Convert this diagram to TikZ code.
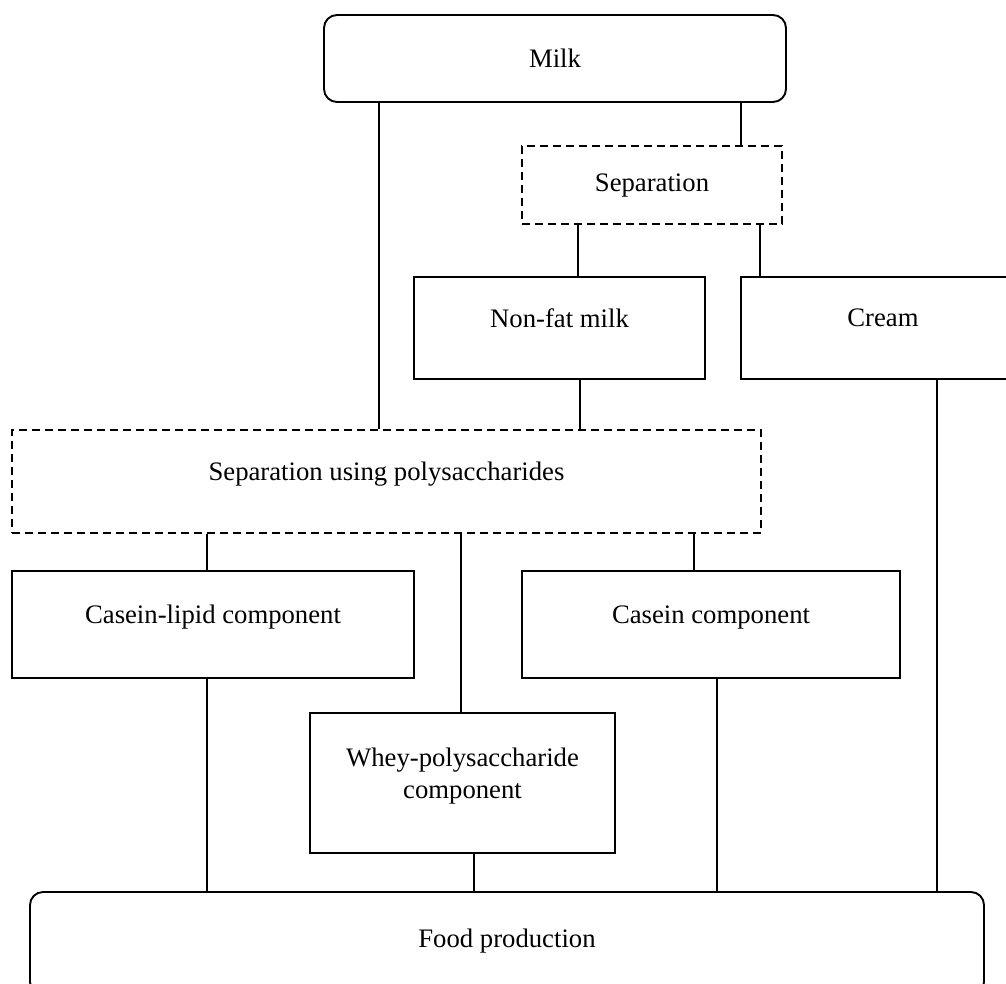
\documentclass[tikz,border=0pt]{standalone}
\usepackage{fontspec}
\setmainfont{Liberation Serif}
\begin{document}
\begin{tikzpicture}
[x=1pt,y=-1pt,
 boxnode/.style={shape=rectangle,draw,line width=1.9pt,inner sep=0pt,
   font=\fontsize{26.7}{32}\selectfont},
 roundnode/.style={boxnode,rounded corners=13pt},
 dashnode/.style={boxnode,dash pattern=on 8pt off 5pt},
 raised/.style={text depth=20pt},
 linedecorate/.style={-,line width=1.6pt}]
\useasboundingbox (0,0) rectangle (1006,983);
%% nodes or boxes
\node (milk) at (555,58.5) [roundnode,minimum width=462,minimum height=87] {Milk};
\node (sep) at (652,185) [dashnode,minimum width=260,minimum height=78] {Separation};
\foreach \nodename/\x/\y/\w/\h/\txt in {nonfat/559.5/328/291/102/Non-fat milk,
    cream/883/328/284/102/Cream,
    lipid/213/624.5/402/107/Casein-lipid component,
    casein/711/624.5/378/107/Casein component} {
  \node (\nodename) at (\x,\y) [boxnode,raised,minimum width=\w,minimum height=\h] {\txt};
}
\node (sepoly) at (386.5,481.5) [dashnode,raised,minimum width=749,minimum height=103]
  {Separation using polysaccharides};
\node (whey) at (462.5,783) [boxnode,raised,align=center,minimum width=305,minimum height=140]
  {Whey-polysaccharide\\component};
\node (food) at (507,943.5) [roundnode,text depth=10pt,minimum width=954,minimum height=103]
  {Food production};
%% lines
\path
\foreach \startnode/\endnode/\x in {milk/sepoly/379, milk/sep/741,
    sep/nonfat/578, sep/cream/760, nonfat/sepoly/580, cream/food/937,
    sepoly/lipid/207, sepoly/whey/461, sepoly/casein/694,
    lipid/food/207, whey/food/474, casein/food/717} {
  (\x,0 |- \startnode.south) edge[linedecorate] (\x,0 |- \endnode.north)
};
\end{tikzpicture}
\end{document}
